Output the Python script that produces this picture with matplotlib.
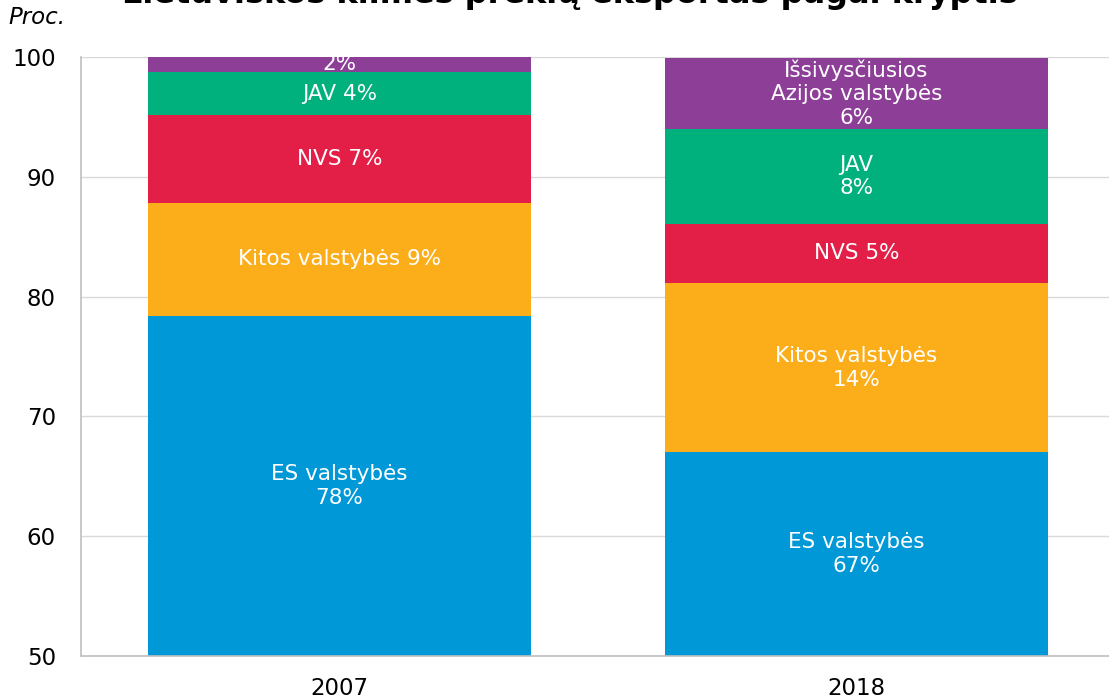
import matplotlib
matplotlib.use("Agg")
import matplotlib.pyplot as plt
import numpy as np

years = ["2007", "2018"]
series_names = ["ES valstybės", "Kitos valstybės", "NVS", "JAV", "Išsivysčiusios Azijos valstybės"]
es = [78.4, 67.0]
kitos = [9.4, 14.1]
nvs = [7.35, 5.0]
jav = [3.6, 7.85]
azija = [1.25, 6.0]
labels_2007 = ["ES valstybės\n78%", "Kitos valstybės 9%", "NVS 7%", "JAV 4%", "2%"]
labels_2018 = ["ES valstybės\n67%", "Kitos valstybės\n14%", "NVS 5%", "JAV\n8%", "Išsivysčiusios\nAzijos valstybės\n6%"]
colors = ["#0098D6", "#FBAE1A", "#E31F48", "#00B17E", "#8D3F97"]

plt.rcParams['font.family'] = ['DejaVu Sans']
fig = plt.figure(figsize=(11.09, 6.99), dpi=100)
ax = fig.add_axes([81/1109, 1-656/699, 1034/1109, 599/699])

x = np.arange(len(years))
width = 0.739
ymin = 50
stack = [es, kitos, nvs, jav, azija]
bottom = np.zeros(len(years))
all_labels = [labels_2007, labels_2018]
for i, (vals, col) in enumerate(zip(stack, colors)):
    vals = np.array(vals)
    ax.bar(x, vals, width, bottom=bottom, color=col, zorder=2)
    for j in range(len(years)):
        lo = max(bottom[j], ymin)
        hi = min(bottom[j] + vals[j], 100)
        yc = (lo + hi) / 2
        ax.text(x[j], yc, all_labels[j][i], ha="center", va="center",
                color="white", fontsize=15.5, linespacing=1.22, zorder=3, clip_on=True)
    bottom = bottom + vals

ax.set_ylim(50, 100)
ax.set_xlim(-0.5, 1.5)
ax.set_yticks([50, 60, 70, 80, 90, 100])
ax.set_xticks(x)
ax.set_xticklabels(years)
ax.tick_params(axis="both", length=0, labelsize=16.5, colors="#000000")
ax.tick_params(axis="x", pad=15)
ax.tick_params(axis="y", pad=18)
ax.grid(axis="y", color="#d9d9d9", linewidth=1, zorder=0)
for s in ["top", "right"]:
    ax.spines[s].set_visible(False)
for s in ["left", "bottom"]:
    ax.spines[s].set_color("#bfbfbf")
    ax.spines[s].set_linewidth(1.2)

fig.text(8/1109, 1-18/699, "Proc.", style="italic", fontsize=16.5, ha="left", va="center")
fig.text(570/1109, 1-3/699, "Lietuviškos kilmės prekių eksportas pagal kryptis",
         fontsize=23, fontweight="bold", ha="center", va="baseline")

fig.savefig("out.png", dpi=100)
